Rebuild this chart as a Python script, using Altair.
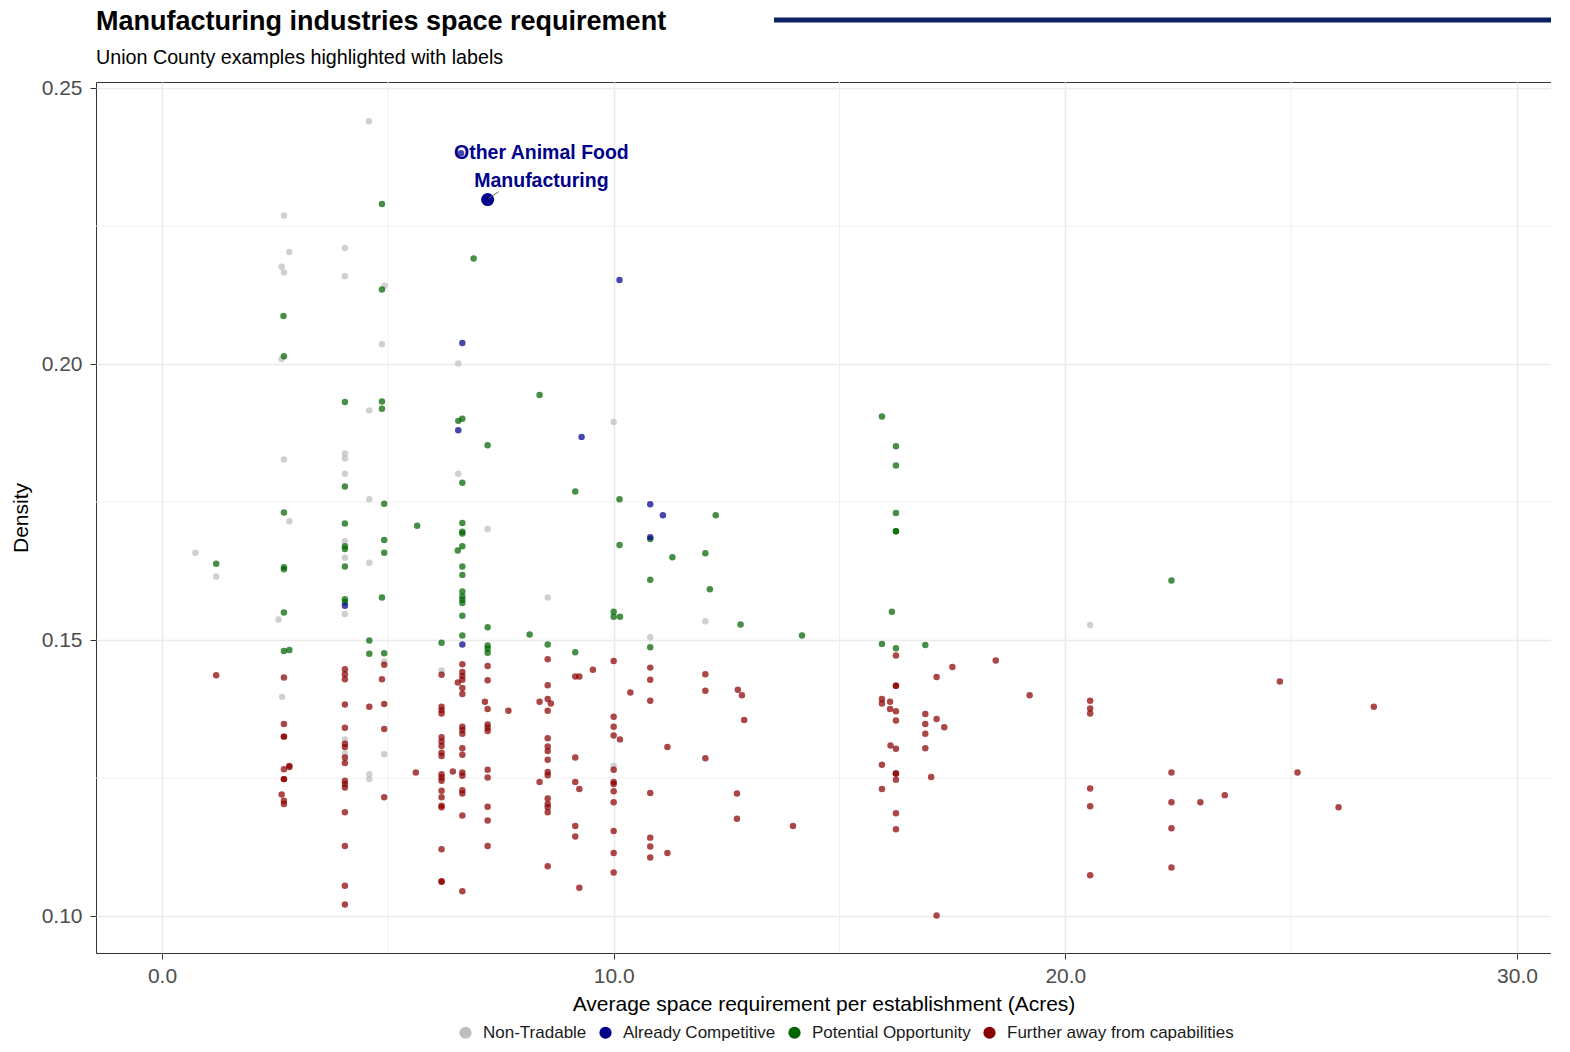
import altair as alt
import pandas as pd

# ---------------- data ----------------
categories = ["Non-Tradable", "Already Competitive", "Potential Opportunity", "Further away from capabilities"]
colors = ["#bebebe", "#00008b", "#006400", "#8b0000"]

nt_x = [4.58, 2.70, 2.82, 4.05, 2.65, 2.70, 4.05, 4.93, 4.87, 2.65, 4.59, 4.05, 4.05, 2.70, 4.05,
        4.59, 2.82, 4.05, 4.05, 0.74, 1.20, 4.59, 4.05, 2.58, 4.92, 2.66, 4.05, 4.05, 4.92, 4.59,
        4.59, 6.56, 10.0, 6.56, 7.21, 8.54, 10.81, 6.19, 10.0, 12.03, 20.55]
nt_y = [0.2440, 0.2269, 0.2203, 0.2210, 0.2176, 0.2166, 0.2159, 0.2142, 0.2036, 0.2009, 0.1916, 0.1838, 0.1829, 0.1827, 0.1801,
        0.1755, 0.1715, 0.1679, 0.1649, 0.1658, 0.1615, 0.1640, 0.1547, 0.1537, 0.1461, 0.1397, 0.1320, 0.1295, 0.1293, 0.1257,
        0.1248, 0.2001, 0.1895, 0.1801, 0.1701, 0.1577, 0.1505, 0.1445, 0.1272, 0.1534, 0.1527]

ac_x = [6.62, 10.13, 6.65, 6.56, 9.29, 10.81, 11.09, 10.81, 4.05, 6.65]
ac_y = [0.2382, 0.2152, 0.2038, 0.1880, 0.1868, 0.1746, 0.1726, 0.1686, 0.1562, 0.1492]

po_x = [4.87, 4.87, 2.69, 2.70, 4.05, 4.87, 4.87, 4.05, 4.92, 2.70, 4.05, 5.65, 4.05, 4.05, 4.92,
        4.92, 1.20, 2.70, 2.70, 4.05, 4.87, 4.05, 4.05, 2.70, 4.59, 4.59, 4.92, 2.70, 2.82, 6.90,
        8.36, 6.65, 6.56, 7.21, 6.65, 9.15, 10.13, 6.65, 6.65, 6.65, 6.65, 6.55, 10.81, 10.13, 11.30,
        6.65, 6.65, 6.65, 6.65, 6.65, 6.65, 6.65, 10.81, 10.0, 10.0, 10.14, 7.21, 6.65, 8.14, 6.19,
        7.21, 7.21, 7.21, 8.54, 9.15, 10.81, 15.94, 16.25, 16.25, 12.26, 16.25, 16.25, 16.25, 12.03, 12.13,
        16.16, 12.81, 14.17, 15.94, 16.25, 16.90, 22.35]
po_y = [0.2290, 0.2135, 0.2087, 0.2014, 0.1931, 0.1932, 0.1919, 0.1778, 0.1747, 0.1731, 0.1711, 0.1707, 0.1670, 0.1665, 0.1681,
        0.1658, 0.1638, 0.1632, 0.1628, 0.1633, 0.1577, 0.1574, 0.1569, 0.1550, 0.1499, 0.1475, 0.1476, 0.1480, 0.1482, 0.2191,
        0.1944, 0.1901, 0.1897, 0.1853, 0.1785, 0.1769, 0.1755, 0.1712, 0.1696, 0.1693, 0.1670, 0.1662, 0.1683, 0.1672, 0.1650,
        0.1633, 0.1618, 0.1588, 0.1579, 0.1573, 0.1567, 0.1544, 0.1609, 0.1551, 0.1542, 0.1542, 0.1523, 0.1508, 0.1510, 0.1495,
        0.1490, 0.1484, 0.1477, 0.1492, 0.1478, 0.1487, 0.1905, 0.1851, 0.1816, 0.1726, 0.1730, 0.1697, 0.1697, 0.1657, 0.1592,
        0.1551, 0.1528, 0.1508, 0.1493, 0.1485, 0.1491, 0.1608]

fa_x = [1.20, 2.70, 4.05, 4.05, 4.05, 4.87, 4.92, 4.05, 4.59, 4.92, 2.70, 2.70, 2.70, 4.05, 4.92,
        4.05, 4.05, 4.05, 4.05, 5.62, 2.70, 2.82, 2.82, 2.70, 2.70, 4.05, 4.05, 4.05, 2.65, 2.70,
        2.70, 4.92, 4.05, 4.05, 4.05, 4.05,
        6.19, 6.65, 6.65, 6.65, 6.65, 6.55, 6.65, 6.65, 7.21, 7.21, 9.54, 9.15, 9.24, 10.81, 10.81,
        8.54, 10.0, 8.54, 10.37, 10.81, 7.15, 7.21, 7.67, 8.36, 8.54, 8.61, 8.54, 6.19, 6.19, 6.19,
        6.65, 6.65, 6.65, 7.21, 7.21, 7.21, 10.0, 10.0, 10.0, 10.14, 11.19, 6.19, 6.19, 6.19, 6.19,
        6.19, 8.54, 8.54, 8.54, 8.54, 6.65, 6.65, 9.15, 6.44, 6.65, 6.65, 6.19, 6.19, 6.19, 7.21,
        7.21, 8.54, 8.54, 8.36, 9.15, 9.24, 10.0, 10.0, 10.0, 10.0, 10.0, 10.81, 6.19, 6.19, 6.19,
        6.19, 6.65, 6.65, 6.65, 7.21, 7.21, 8.54, 8.54, 8.54, 8.54, 9.15, 9.15, 10.0, 10.0, 10.0,
        10.81, 10.81, 10.81, 11.19, 6.19, 6.19, 6.19, 6.65, 7.21, 8.54, 9.24,
        16.25, 17.50, 17.15, 12.03, 12.03, 12.75, 12.84, 16.25, 16.25, 15.94, 15.94, 16.12, 16.12, 16.25, 16.25,
        16.90, 16.90, 16.90, 16.90, 17.15, 17.32, 12.89, 12.03, 16.13, 16.25, 15.94, 16.25, 16.25, 16.25, 17.03,
        15.94, 12.73, 12.73, 13.97, 16.25, 16.25, 17.15,
        18.46, 19.21, 20.55, 20.55, 20.55, 24.75, 26.83, 22.35, 25.14, 20.55, 20.55, 22.35, 22.99, 23.53, 26.05,
        22.35, 22.35, 20.55]
fa_y = [0.1436, 0.1432, 0.1447, 0.1438, 0.1429, 0.1429, 0.1455, 0.1383, 0.1379, 0.1384, 0.1348, 0.1325, 0.1325, 0.1341, 0.1339,
        0.1312, 0.1306, 0.1287, 0.1277, 0.1260, 0.1266, 0.1272, 0.1270, 0.1248, 0.1248, 0.1245, 0.1239, 0.1233, 0.1220, 0.1209,
        0.1203, 0.1215, 0.1188, 0.1127, 0.1055, 0.1021,
        0.1437, 0.1456, 0.1442, 0.1435, 0.1428, 0.1423, 0.1413, 0.1402, 0.1453, 0.1427, 0.1446, 0.1434, 0.1434, 0.1450, 0.1428,
        0.1465, 0.1462, 0.1418, 0.1405, 0.1390, 0.1388, 0.1375, 0.1372, 0.1388, 0.1393, 0.1385, 0.1372, 0.1379, 0.1373, 0.1367,
        0.1343, 0.1337, 0.1330, 0.1347, 0.1341, 0.1335, 0.1361, 0.1343, 0.1327, 0.1320, 0.1306, 0.1324, 0.1316, 0.1308, 0.1296,
        0.1290, 0.1322, 0.1307, 0.1299, 0.1283, 0.1304, 0.1292, 0.1287, 0.1262, 0.1260, 0.1254, 0.1257, 0.1251, 0.1245, 0.1265,
        0.1251, 0.1261, 0.1255, 0.1243, 0.1243, 0.1230, 0.1265, 0.1243, 0.1239, 0.1226, 0.1206, 0.1223, 0.1227, 0.1215, 0.1200,
        0.1197, 0.1228, 0.1222, 0.1182, 0.1198, 0.1173, 0.1213, 0.1203, 0.1197, 0.1188, 0.1163, 0.1144, 0.1154, 0.1114, 0.1079,
        0.1142, 0.1126, 0.1106, 0.1114, 0.1121, 0.1063, 0.1062, 0.1045, 0.1127, 0.1090, 0.1051,
        0.1472, 0.1451, 0.1433, 0.1438, 0.1408, 0.1410, 0.1400, 0.1417, 0.1417, 0.1393, 0.1385, 0.1388, 0.1375, 0.1371, 0.1354,
        0.1366, 0.1348, 0.1330, 0.1304, 0.1357, 0.1342, 0.1355, 0.1286, 0.1309, 0.1303, 0.1274, 0.1258, 0.1258, 0.1247, 0.1252,
        0.1230, 0.1222, 0.1176, 0.1163, 0.1186, 0.1157, 0.1001,
        0.1463, 0.1400, 0.1390, 0.1376, 0.1367, 0.1425, 0.1379, 0.1260, 0.1260, 0.1231, 0.1199, 0.1206, 0.1206, 0.1219, 0.1197,
        0.1159, 0.1088, 0.1074]

highlight_name = ["Other Animal Food", "Manufacturing"]
highlight_x = [7.21]
highlight_y = [0.2298]
label_x = [8.40, 8.40]
label_y = [0.2382, 0.2332]
seg_x, seg_y, seg_x2, seg_y2 = [7.23], [0.2300], [7.45], [0.2312]

title_text = ["Manufacturing industries space requirement"]
subtitle_text = ["Union County examples highlighted with labels"]

x_ticks = [0, 10, 20, 30]
y_ticks = [0.10, 0.15, 0.20, 0.25]
x_minor = [5, 15, 25]
y_minor = [0.125, 0.175, 0.225]

x_domain = [-1.461, 30.753]
y_domain = [0.09330, 0.25109]

# ---------------- build table ----------------
rows = []
for cat, xs_, ys_ in [("Non-Tradable", nt_x, nt_y),
                      ("Further away from capabilities", fa_x, fa_y),
                      ("Potential Opportunity", po_x, po_y),
                      ("Already Competitive", ac_x, ac_y)]:
    for xv, yv in zip(xs_, ys_):
        rows.append({"space": xv, "density": yv, "group": cat})
df = pd.DataFrame(rows)

FONT = "Liberation Sans"
X_TITLE = "Average space requirement per establishment (Acres)"
Y_TITLE = "Density"

xs = alt.Scale(domain=x_domain, nice=False, zero=False)
ys = alt.Scale(domain=y_domain, nice=False, zero=False)

x_axis = alt.Axis(values=x_ticks, format=".1f", labelPadding=6, titlePadding=7)
y_axis = alt.Axis(values=y_ticks, format=".2f", labelPadding=8, titlePadding=10)


def X(field="space"):
    return alt.X(f"{field}:Q", scale=xs, title=X_TITLE, axis=x_axis)


def Y(field="density"):
    return alt.Y(f"{field}:Q", scale=ys, title=Y_TITLE, axis=y_axis)


minor_v = alt.Chart(pd.DataFrame({"space": x_minor})).mark_rule(color="#f0f0f0", strokeWidth=1).encode(x=X())
minor_h = alt.Chart(pd.DataFrame({"density": y_minor})).mark_rule(color="#f0f0f0", strokeWidth=1).encode(y=Y())

points = alt.Chart(df).mark_circle(size=42, opacity=0.72).encode(
    x=X(), y=Y(),
    color=alt.Color("group:N", scale=alt.Scale(domain=categories, range=colors),
                    legend=alt.Legend(title=None, orient="none", legendX=361, legendY=942,
                                      direction="horizontal", symbolType="circle", symbolSize=150,
                                      symbolOpacity=1, symbolStrokeWidth=0, labelFontSize=17,
                                      labelColor="#1a1a1a", labelFont=FONT, labelOffset=9,
                                      columnPadding=10, labelLimit=400)),
)

highlight = alt.Chart(pd.DataFrame({"space": highlight_x, "density": highlight_y})).mark_circle(
    size=170, opacity=1, color="#00008b").encode(x=X(), y=Y())

segment = alt.Chart(pd.DataFrame({"space": seg_x, "density": seg_y, "space2": seg_x2, "density2": seg_y2})).mark_rule(
    color="#666666", strokeWidth=1).encode(x=X(), y=Y(), x2="space2:Q", y2="density2:Q")

labels = alt.Chart(pd.DataFrame({"space": label_x, "density": label_y, "txt": highlight_name})).mark_text(
    fontSize=19.5, fontWeight="bold", color="#00008b", font=FONT, align="center", baseline="middle").encode(
    x=X(), y=Y(), text="txt:N")

topline = alt.Chart(pd.DataFrame({"k": [0]})).mark_rule(color="#0b2265", strokeWidth=5).encode(
    x=alt.value(678), x2=alt.value(1455), y=alt.value(-62))

title_mark = alt.Chart(pd.DataFrame({"t": title_text})).mark_text(
    font=FONT, fontSize=27, fontWeight="bold", color="black", align="left", baseline="alphabetic").encode(
    x=alt.value(0), y=alt.value(-52), text="t:N")
subtitle_mark = alt.Chart(pd.DataFrame({"t": subtitle_text})).mark_text(
    font=FONT, fontSize=19.7, color="black", align="left", baseline="alphabetic").encode(
    x=alt.value(0), y=alt.value(-18), text="t:N")

chart = alt.layer(minor_v, minor_h, points, highlight, segment, labels, topline, title_mark, subtitle_mark).properties(
    width=1455, height=871,
    autosize=alt.AutoSizeParams(type="none"),
    padding={"left": 88, "top": 74, "right": 0, "bottom": 89},
).configure(font=FONT).configure_view(stroke="#333333", strokeWidth=1).configure_axis(
    grid=True, gridColor="#ebebeb", gridWidth=1.6, domain=False, tickColor="#333333", tickSize=6,
    labelFontSize=21, labelColor="#4d4d4d", labelFont=FONT,
    titleFontSize=21, titleFontWeight="normal", titleColor="black", titleFont=FONT)

chart.save("out.html", embed_options={"renderer": "svg", "actions": False})
